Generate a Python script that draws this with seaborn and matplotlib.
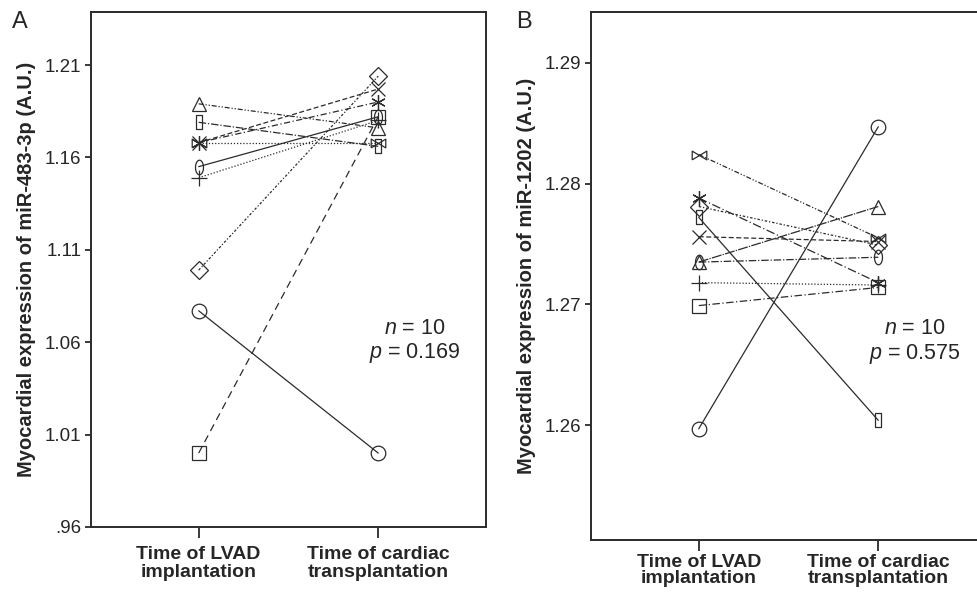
import numpy as np
import matplotlib
matplotlib.use("Agg")
import matplotlib.pyplot as plt
import seaborn as sns

# paired values per subject: (time of LVAD, time of cardiac transplantation)
subjects = ["circle", "square", "diamond", "triangle", "rect", "x", "star", "bowtie", "ellipse", "plus"]

mir483_lvad = [1.077, 1.000, 1.099, 1.189, 1.179, 1.168, 1.168, 1.168, 1.155, 1.149]
mir483_htx = [1.000, 1.182, 1.204, 1.176, 1.166, 1.197, 1.190, 1.168, 1.182, 1.180]

mir1202_lvad = [1.2597, 1.2699, 1.2781, 1.2735, 1.2772, 1.2756, 1.2788, 1.2824, 1.2735, 1.2718]
mir1202_htx = [1.2847, 1.2714, 1.2749, 1.2781, 1.2604, 1.2752, 1.2718, 1.2755, 1.2739, 1.2716]

time_labels = ["Time of LVAD\nimplantation", "Time of cardiac\ntransplantation"]
ticks_a = [0.96, 1.01, 1.06, 1.11, 1.16, 1.21]
ticks_b = [1.26, 1.27, 1.28, 1.29]

sns.set_style("ticks")
plt.rcParams["font.family"] = ["Liberation Sans", "DejaVu Sans"]
plt.rcParams["mathtext.fontset"] = "custom"
plt.rcParams["mathtext.it"] = "Liberation Sans:italic"
plt.rcParams["mathtext.rm"] = "Liberation Sans"

# marker shapes
t = np.linspace(0, 2 * np.pi, 30)
ellipse = list(zip(0.55 * np.cos(t), np.sin(t)))
bowtie = [(-1, -0.6), (1, 0.6), (1, -0.6), (-1, 0.6), (-1, -0.6)]
narrow = [(-0.45, -1), (0.45, -1), (0.45, 1), (-0.45, 1), (-0.45, -1)]

markers = {"circle": "o", "square": "s", "diamond": "D", "triangle": "^", "rect": narrow,
           "x": "x", "star": (6, 2, 0), "bowtie": bowtie, "ellipse": ellipse, "plus": "+"}
sizes = {"circle": 10.5, "square": 9.5, "diamond": 9.5, "triangle": 9.5, "rect": 10.5,
         "x": 9.5, "star": 10.5, "bowtie": 10.5, "ellipse": 10.5, "plus": 11.5}
styles_a = {"circle": "-", "square": (0, (6, 4)), "diamond": (0, (2, 1.5, 1, 1.5)),
            "triangle": (0, (4, 1.5, 1, 1.5, 1, 1.5)), "rect": (0, (6, 1.5, 1, 1.5)),
            "x": (0, (4, 2)), "star": (0, (5, 2, 1, 2)), "bowtie": (0, (1, 1.5)),
            "ellipse": "-", "plus": (0, (1, 1.5))}
styles_b = {"circle": "-", "square": (0, (6, 2, 1, 2)), "diamond": (0, (2, 1.5, 1, 1.5)),
            "triangle": (0, (8, 1, 1, 1)), "rect": "-", "x": (0, (4, 2)),
            "star": (0, (7, 2, 1, 2)), "bowtie": (0, (4, 1.5, 1, 1.5, 1, 1.5)),
            "ellipse": (0, (6, 1.5, 1, 1.5)), "plus": (0, (1, 1.5))}

ink = "#2b2b2b"

fig = plt.figure(figsize=(9.78, 5.93), dpi=100)
ax_a = fig.add_axes([0.0930, 0.1113, 0.4039, 0.8685])
ax_b = fig.add_axes([0.6043, 0.0894, 0.4039, 0.8904])


def draw(ax, before, after, styles):
    for s, v0, v1 in zip(subjects, before, after):
        sns.lineplot(x=[0, 1], y=[v0, v1], ax=ax, color=ink, linewidth=0.9,
                     linestyle=styles[s], marker=markers[s], markersize=sizes[s],
                     markerfacecolor="none", markeredgecolor=ink, markeredgewidth=0.9)


draw(ax_a, mir483_lvad, mir483_htx, styles_a)
draw(ax_b, mir1202_lvad, mir1202_htx, styles_b)

for ax, ticks, lim, label, p, ny, xpad, lsp in [
    (ax_a, ticks_a, (0.96, 1.2387), "Myocardial expression of miR-483-3p (A.U.)", "0.169", 0.385, 6, 1.05),
    (ax_b, ticks_b, (1.2505, 1.2942), "Myocardial expression of miR-1202 (A.U.)", "0.575", 0.40, 2, 0.95),
]:
    ax.set_xlim(-0.6, 1.6)
    ax.set_ylim(*lim)
    ax.set_xticks([0, 1])
    ax.set_xticklabels(time_labels, fontsize=14, fontweight="bold", linespacing=lsp)
    ax.set_yticks(ticks)
    ax.set_yticklabels([("%.2f" % v).lstrip("0") for v in ticks], fontsize=13.5)
    ax.tick_params(axis="x", length=8, width=1.3, color=ink, pad=xpad)
    ax.tick_params(axis="y", length=4, width=1.3, color=ink, pad=3)
    for sp in ax.spines.values():
        sp.set_visible(True)
        sp.set_linewidth(1.4)
        sp.set_color(ink)
    ax.set_xlabel("")
    ax.set_ylabel(label, fontsize=14.5, fontweight="bold", labelpad=6)
    ax.text(0.82, ny, "$n$ = 10", transform=ax.transAxes, ha="center", va="center", fontsize=15.5)
    ax.text(0.82, ny - 0.048, "$p$ = " + p, transform=ax.transAxes, ha="center", va="center", fontsize=15.5)

fig.text(20 / 978, 1 - 22 / 593, "A", fontsize=17, ha="center", va="center")
fig.text(524 / 978, 1 - 22 / 593, "B", fontsize=17, ha="center", va="center")

fig.savefig("out.png", dpi=100)
